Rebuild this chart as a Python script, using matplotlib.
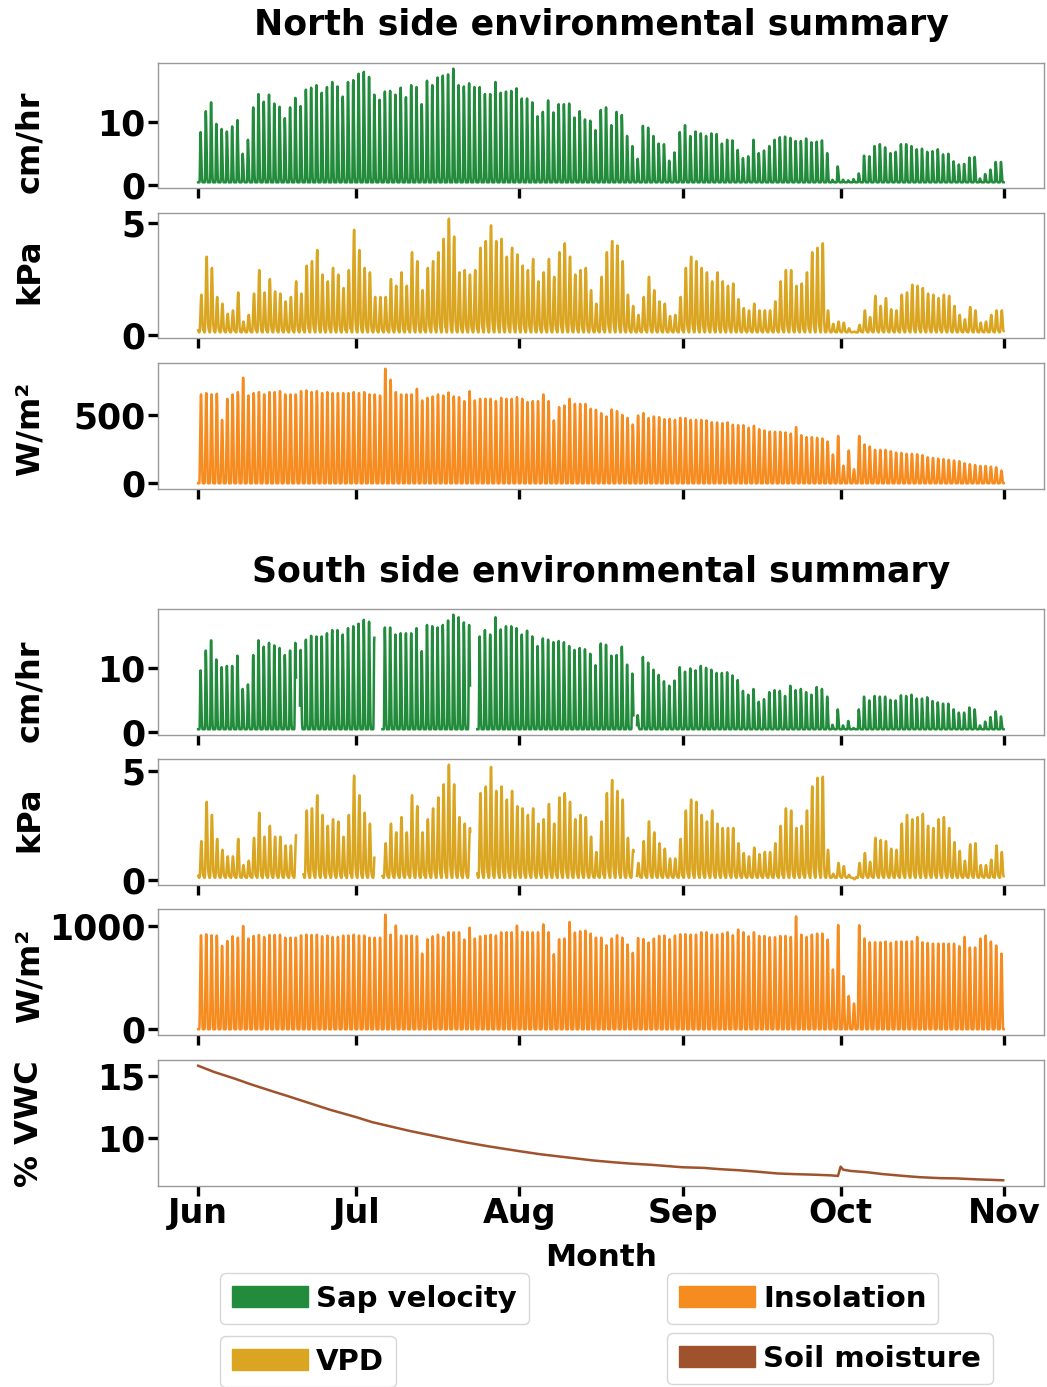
import numpy as np
import matplotlib
matplotlib.use("Agg")
import matplotlib.pyplot as plt
import matplotlib.dates as mdates
from matplotlib.patches import Patch

plt.rcParams['font.family'] = ['DejaVu Sans']
plt.rcParams['font.weight'] = 'bold'

# daily peak values, Jun 1 .. Oct 31 (153 days)
north_sap = [8.4, 11.7, 13.1, 9.7, 8.9, 8.5, 9.3, 10.3, 5.0, 7.2,
             12.3, 14.4, 13.2, 14.3, 12.9, 12.4, 10.6, 12.3, 13.8, 12.5,
             15.1, 15.4, 15.8, 14.6, 15.5, 16.3, 15.6, 14.0, 16.3, 16.6,
             17.6, 17.9, 17.1, 14.3, 13.5, 14.8, 14.9, 14.3, 15.4, 13.9,
             15.8, 15.5, 12.8, 16.5, 15.8, 17.0, 17.3, 17.5, 18.4, 15.8,
             15.6, 16.1, 15.5, 15.5, 14.4, 14.4, 16.3, 14.6, 14.8, 14.9,
             15.3, 13.7, 13.7, 13.1, 10.9, 11.6, 13.4, 11.5, 12.8, 12.8,
             12.9, 10.7, 11.7, 10.4, 10.2, 8.7,
             11.9, 12.3, 9.5, 11.6, 11.1, 7.8, 6.2, 4.2, 9.4, 9.1,
             7.8, 6.6, 6.5, 3.9, 5.2, 8.4, 9.5, 7.8, 8.5, 8.2,
             7.8, 8.2, 8.1, 6.6, 7.2, 7.1, 5.6, 4.3, 4.6, 7.2,
             5.1, 5.5, 6.2, 7.2, 7.6, 7.7, 7.5, 7.0, 7.0, 7.4,
             6.8, 6.9, 7.1, 5.1, 0.9, 3.0, 0.9, 0.8, 1.0, 1.9,
             4.7, 4.6, 6.2, 6.5, 6.0, 5.1, 5.3, 6.5, 6.5, 6.2,
             5.7, 5.8, 5.3, 5.4, 5.7, 4.9, 5.0, 3.8, 3.3, 3.4,
             4.4, 4.5, 1.1, 1.8, 2.5, 3.7, 3.7]

north_vpd = [1.8, 3.5, 3.0, 1.7, 1.4, 0.95, 1.1, 1.9, 0.6, 0.9,
             1.85, 2.9, 1.9, 2.5, 1.95, 1.85, 1.5, 1.7, 2.4, 1.85,
             3.1, 3.3, 3.8, 2.7, 2.4, 3.0, 2.7, 2.1, 2.9, 4.7,
             3.8, 3.0, 2.8, 1.7, 1.7, 1.7, 2.5, 2.2, 2.8, 2.2,
             3.7, 3.3, 2.0, 3.0, 3.3, 3.7, 4.3, 5.2, 4.4, 2.8,
             2.9, 2.7, 2.9, 3.9, 4.2, 4.9, 4.2, 4.3, 3.5, 3.9,
             3.6, 3.1, 2.9, 3.4, 2.4, 2.8, 3.4, 2.6, 3.7, 4.1,
             3.5, 2.7, 2.9, 3.0, 2.0, 1.4,
             2.6, 3.7, 4.2, 4.0, 3.3, 1.8, 1.3, 0.9, 1.7, 2.6,
             2.0, 1.5, 1.4, 0.85, 0.9, 1.7, 3.0, 3.5, 3.3, 3.0,
             2.8, 2.4, 2.8, 2.4, 2.2, 2.3, 1.6, 1.2, 1.1, 1.4,
             1.1, 1.1, 1.1, 1.5, 2.4, 2.9, 2.9, 2.2, 2.3, 2.8,
             3.7, 3.9, 4.1, 1.1, 0.5, 0.6, 0.55, 0.3, 0.15, 0.45,
             1.1, 0.8, 1.75, 1.3, 1.65, 1.15, 1.1, 1.8, 1.9, 2.25,
             2.2, 2.1, 1.85, 1.8, 1.65, 1.8, 1.75, 1.3, 0.9, 0.7,
             1.25, 1.1, 0.55, 0.6, 0.9, 1.1, 1.1]

north_ins = [649, 659, 649, 654, 463, 617, 649, 666, 771, 641,
             659, 666, 649, 666, 666, 673, 649, 649, 649, 673,
             678, 666, 673, 659, 666, 659, 659, 659, 659, 666,
             659, 666, 649, 649, 641, 837, 756, 666, 649, 649,
             649, 690, 605, 624, 634, 649, 641, 663, 634, 629,
             600, 673, 605, 617, 617, 617, 600, 624, 617, 617,
             629, 617, 593, 600, 600, 649, 600, 459, 556, 568,
             617, 580, 580, 580, 544, 537,
             512, 488, 539, 527, 500, 478, 429, 495, 512, 476,
             488, 483, 468, 471, 463, 478, 476, 463, 463, 463,
             459, 446, 444, 439, 444, 427, 424, 424, 405, 420,
             395, 385, 378, 376, 376, 371, 363, 410, 351, 337,
             337, 332, 327, 305, 210, 346, 129, 239, 102, 346,
             283, 268, 244, 244, 244, 234, 224, 222, 215, 215,
             212, 205, 190, 185, 180, 176, 171, 166, 161, 146,
             139, 134, 127, 127, 122, 117, 93]

nan = np.nan
south_sap = [9.7, 12.8, 14.4, 11.4, 10.2, 10.4, 10.4, 12.0, 6.8, 7.5,
             12.1, 14.4, 13.4, 14.0, 13.6, 13.2, 12.1, 12.8, 14.0, 12.9,
             14.5, 15.1, 15.0, 15.0, 15.5, 16.0, 16.0, 15.3, 16.3, 16.6,
             17.0, 17.6, 17.3, 14.8, nan, 16.4, 16.4, 15.3, 15.5, 15.5,
             15.5, 16.3, 12.7, 16.8, 16.6, 16.4, 16.8, 17.5, 18.4, 18.0,
             17.2, 16.8, nan, 15.0, 16.0, 15.3, 18.0, 16.1, 16.6, 16.6,
             16.3, 15.3, 15.9, 15.0, 13.5, 14.7, 14.5, 14.1, 14.3, 14.1,
             13.5, 12.9, 13.2, 13.0, 12.3, 10.5,
             13.9, 13.7, 12.0, 12.1, 13.4, 10.6, 9.2, 2.7, 11.8, 10.9,
             9.8, 9.0, 8.0, 7.3, 8.1, 10.2, 9.5, 10.0, 9.7, 10.4,
             10.1, 9.8, 9.3, 9.3, 9.4, 8.9, 8.2, 6.5, 5.9, 6.8,
             4.8, 5.2, 6.3, 6.6, 6.5, 5.7, 7.3, 6.6, 6.8, 6.3,
             5.9, 7.1, 6.8, 5.6, 1.2, 3.6, 1.1, 1.8, 0.7, 3.6,
             5.6, 5.0, 5.7, 5.6, 5.6, 5.1, 5.0, 5.8, 5.7, 5.9,
             5.3, 5.3, 5.5, 4.9, 4.7, 4.5, 4.5, 3.6, 3.1, 3.1,
             3.9, 3.6, 1.1, 1.7, 2.4, 3.3, 2.5]

south_vpd = [1.8, 3.6, 3.0, 1.9, 1.4, 1.1, 1.1, 1.9, 0.7, 0.9,
             1.95, 3.1, 2.0, 2.5, 2.0, 2.0, 1.6, 1.6, 2.1, nan,
             3.2, 3.3, 3.9, 3.0, 2.5, 2.8, 2.7, 2.0, 3.0, 4.8,
             3.9, 3.1, 2.6, 1.6, nan, 1.7, 2.6, 2.2, 2.9, 2.2,
             3.9, 3.4, 2.2, 2.8, 3.3, 3.8, 4.4, 5.3, 4.4, 2.9,
             2.6, 2.4, nan, 4.0, 4.3, 5.2, 4.1, 4.3, 3.7, 4.1,
             3.4, 3.3, 3.0, 3.3, 2.6, 2.8, 3.5, 2.6, 3.8, 4.0,
             3.6, 2.8, 3.0, 2.9, 2.0, 1.3,
             2.7, 4.0, 4.6, 4.1, 3.7, 1.95, 1.4, 0.8, 1.8, 2.7,
             2.2, 1.7, 1.45, 1.0, 1.0, 1.9, 3.2, 3.7, 3.6, 3.0,
             2.7, 3.2, 2.6, 2.4, 2.4, 2.4, 1.7, 1.25, 1.1, 1.5,
             1.2, 1.3, 1.3, 1.7, 2.5, 3.3, 3.2, 2.4, 2.5, 3.2,
             4.3, 4.7, 4.75, 1.4, 0.3, 0.8, 0.65, 0.25, 0.05, 0.8,
             1.25, 0.85, 1.95, 1.85, 1.8, 1.45, 1.4, 2.6, 3.0, 2.8,
             2.9, 3.05, 2.5, 2.4, 2.8, 2.9, 2.4, 1.75, 1.35, 0.9,
             1.65, 1.7, 0.7, 0.7, 0.95, 1.6, 1.3]

south_ins = [913, 923, 913, 910, 810, 858, 903, 890, 1003, 881,
             907, 916, 897, 916, 916, 919, 890, 890, 890, 913,
             919, 916, 919, 903, 910, 897, 897, 910, 910, 919,
             910, 910, 890, 890, 890, 1113, 919, 1007, 910, 910,
             910, 903, 735, 874, 903, 919, 897, 942, 942, 942,
             871, 987, 881, 903, 910, 919, 910, 942, 942, 942,
             1007, 945, 945, 942, 942, 1019, 942, 729, 874, 881,
             1042, 939, 952, 958, 929, 890, 890, 816, 881, 913,
             890, 823, 742, 887, 877, 842, 881, 907, 910, 874,
             910, 923, 923, 919, 919, 942, 942, 919, 919, 929,
             942, 913, 968, 942, 903, 942, 907, 907, 894, 894,
             907, 907, 897, 1097, 919, 897, 919, 929, 929, 871,
             581, 1013, 516, 323, 250, 1010, 881, 845, 845, 845,
             852, 839, 852, 852, 852, 855, 897, 845, 839, 832,
             832, 832, 832, 832, 806, 897, 794, 794, 881, 910,
             852, 813, 735]

# missing-record windows on the south side (day offsets from Jun 1)
south_sap_gaps = [(18.6, 19.3), (33.5, 34.9), (51.65, 53.0), (82.7, 83.3)]
south_vpd_gaps = [(18.6, 19.9), (33.5, 35.0), (51.7, 53.0), (82.7, 83.3)]

soil_days = [0, 3, 7, 10, 14, 17, 21, 25, 30, 33, 37, 40, 44, 48, 51, 55, 58, 61,
             65, 68, 72, 75, 79, 82, 86, 89, 92, 96, 99, 103, 106, 110, 113, 117,
             120, 121.5, 122, 122.5, 124, 127, 130, 134, 137, 141, 144, 148, 152.9]
soil_vwc = [15.8, 15.3, 14.75, 14.3, 13.75, 13.35, 12.8, 12.25, 11.65, 11.25, 10.85,
            10.55, 10.2, 9.85, 9.6, 9.3, 9.1, 8.9, 8.65, 8.5, 8.3, 8.15, 8.0, 7.9,
            7.8, 7.7, 7.6, 7.55, 7.45, 7.35, 7.25, 7.1, 7.05, 7.0, 6.95, 6.9, 7.65,
            7.4, 7.3, 7.2, 7.05, 6.9, 6.8, 6.72, 6.7, 6.62, 6.55]

# typical hourly shape of a day (0-23 h), fraction of daily peak
sap_shape = [0, 0, 0, 0, 0, 0, 0, 0.05, 0.3, 0.7, 0.95, 1.0, 0.92, 0.78, 0.6, 0.42,
             0.25, 0.12, 0.05, 0.02, 0, 0, 0, 0]
vpd_shape = [0.05, 0.03, 0.02, 0.01, 0, 0, 0, 0.03, 0.12, 0.28, 0.45, 0.62, 0.77, 0.9,
             0.98, 1.0, 0.93, 0.75, 0.5, 0.3, 0.18, 0.12, 0.08, 0.06]
ins_shape = [0, 0, 0, 0, 0, 0, 0.02, 0.12, 0.3, 0.5, 0.7, 0.86, 0.96, 1.0, 0.96, 0.86,
             0.7, 0.5, 0.3, 0.12, 0.03, 0, 0, 0]

c_sap = '#228c3c'
c_vpd = '#daa520'
c_ins = '#f68b1f'
c_soil = '#a0522d'

start = np.datetime64('2019-06-01T00:00')
ndays = len(north_sap)
hours = start + np.arange(ndays * 24).astype('timedelta64[h]')
tday = np.arange(ndays * 24) / 24.0


def hourly(peaks, shape, base, gaps=()):
    p = np.array(peaks, dtype=float)[:, None]
    v = (base + (p - base) * np.array(shape)[None, :]).ravel()
    for a, b in gaps:
        v[(tday >= a) & (tday < b)] = np.nan
    return v


W, H = 1047, 1387
fig = plt.figure(figsize=(W / 100, H / 100), dpi=100)
left, width = 158 / W, 886 / W


def panel(top, bot):
    return fig.add_axes([left, 1 - bot / H, width, (bot - top) / H])


def style(ax, yticks, ylabel, label_y, last=False):
    for s in ax.spines.values():
        s.set_color('#999999')
        s.set_linewidth(1.0)
    ax.set_yticks(yticks)
    ax.xaxis.set_major_locator(mdates.MonthLocator())
    ax.xaxis.set_major_formatter(mdates.DateFormatter('%b'))
    ax.tick_params(axis='y', length=7, width=2.4, color='black', labelsize=25, pad=2)
    ax.tick_params(axis='x', length=7, width=2.4, color='black', labelsize=24,
                   labelbottom=last, pad=1)
    ax.set_xlim(start - np.timedelta64(183, 'h'), start + np.timedelta64(153 * 24 + 183, 'h'))
    fig.text(30 / W, 1 - label_y / H, ylabel, rotation=90, ha='center', va='center',
             fontsize=23, fontweight='bold')


lw = 1.8
ax = panel(63, 188)
ax.plot(hours, hourly(north_sap, sap_shape, 0.5), color=c_sap, lw=lw)
style(ax, [0, 10], 'cm/hr', 142)
ax = panel(213, 338)
ax.plot(hours, hourly(north_vpd, vpd_shape, 0.12), color=c_vpd, lw=lw)
style(ax, [0, 5], 'kPa', 271)
ax = panel(363, 489)
ax.plot(hours, hourly(north_ins, ins_shape, 0), color=c_ins, lw=lw)
style(ax, [0, 500], 'W/m²', 429)

ax = panel(609, 735)
ax.plot(hours, hourly(south_sap, sap_shape, 0.5, south_sap_gaps), color=c_sap, lw=lw)
style(ax, [0, 10], 'cm/hr', 691)
ax = panel(759, 885)
ax.plot(hours, hourly(south_vpd, vpd_shape, 0.12, south_vpd_gaps), color=c_vpd, lw=lw)
style(ax, [0, 5], 'kPa', 819)
ax = panel(909, 1035)
ax.plot(hours, hourly(south_ins, ins_shape, 0), color=c_ins, lw=lw)
style(ax, [0, 1000], 'W/m²', 976)
ax = panel(1060, 1186)
soil_t = start + (np.array(soil_days) * 24).astype(int).astype('timedelta64[h]')
ax.plot(soil_t, soil_vwc, color=c_soil, lw=lw)
style(ax, [10, 15], '% VWC', 1124, last=True)
ax.set_xlabel('Month', fontsize=22.5, fontweight='bold', labelpad=9)

fig.text(601 / W, 1 - 25 / H, 'North side environmental summary', ha='center', va='center',
         fontsize=25, fontweight='bold')
fig.text(601 / W, 1 - 572 / H, 'South side environmental summary', ha='center', va='center',
         fontsize=25, fontweight='bold')

entries = [('Sap velocity', c_sap, 220, 1273), ('VPD', c_vpd, 220, 1336),
           ('Insolation', c_ins, 667, 1273), ('Soil moisture', c_soil, 667, 1333)]
for name, col, x, y in entries:
    fig.legend(handles=[Patch(color=col, label=name)], loc='upper left',
               bbox_to_anchor=(x / W, 1 - y / H), handlelength=2.6,
               handletextpad=0.3, borderpad=0.4, borderaxespad=0,
               prop={'weight': 'bold', 'size': 21})

fig.savefig('out.png', dpi=100)
